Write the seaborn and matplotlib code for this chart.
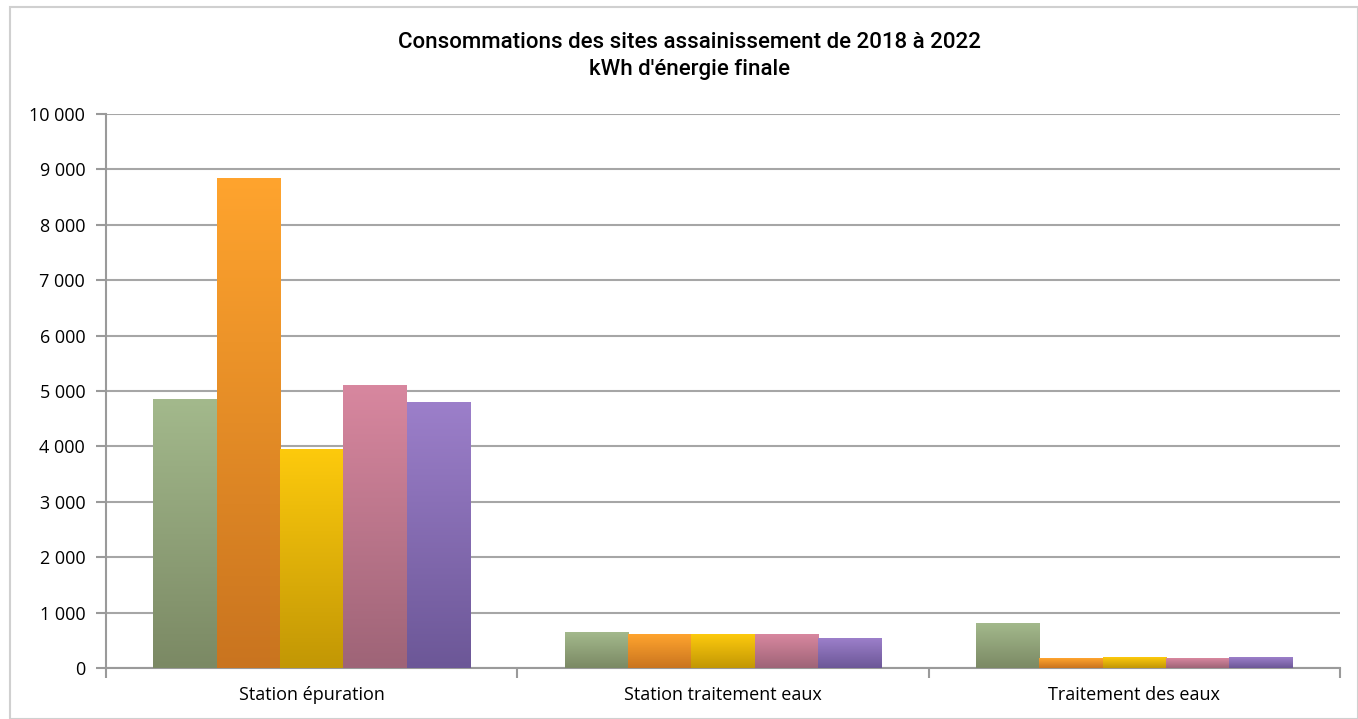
import numpy as np
import pandas as pd
import matplotlib
matplotlib.use("Agg")
import matplotlib.pyplot as plt
import matplotlib.ticker as mticker
from matplotlib.colors import LinearSegmentedColormap
from matplotlib.patches import Rectangle
import seaborn as sns

categories = ["Station épuration", "Station traitement eaux", "Traitement des eaux"]
years = ["2018", "2019", "2020", "2021", "2022"]
v2018 = [4850, 640, 800]
v2019 = [8830, 605, 168]
v2020 = [3950, 605, 186]
v2021 = [5100, 605, 168]
v2022 = [4800, 530, 186]
top_colors = ["#a3b98c", "#ffa42e", "#fdca0d", "#d8879f", "#9c7fca"]
bottom_colors = ["#7b8964", "#c9741f", "#c29705", "#9e6477", "#6c5797"]

rows = []
for yr, vals in zip(years, [v2018, v2019, v2020, v2021, v2022]):
    for c, v in zip(categories, vals):
        rows.append({"site": c, "annee": yr, "kwh": v})
df = pd.DataFrame(rows)

sns.set_theme(style="white")
plt.rcParams["font.family"] = ["Open Sans", "DejaVu Sans"]

fig = plt.figure(figsize=(13.58, 7.19), dpi=100)
ax = fig.add_axes([106/1358, 51/719, (1340-106)/1358, (668-114)/719])

sns.barplot(data=df, x="site", y="kwh", hue="annee", order=categories,
            hue_order=years, palette=top_colors, width=0.77, gap=0,
            legend=False, ax=ax, saturation=1, errorbar=None)

ax.set_ylim(0, 10000)
ax.set_xlim(-0.5, 2.5)

# gradient fill for each bar
bars = [p for p in ax.patches if isinstance(p, Rectangle)]
n_cat = len(categories)
for i, p in enumerate(bars):
    hue_idx = i // n_cat
    x, w, h = p.get_x(), p.get_width(), p.get_height()
    cmap = LinearSegmentedColormap.from_list("g", [bottom_colors[hue_idx], top_colors[hue_idx]])
    grad = np.linspace(0, 1, 256).reshape(-1, 1)
    ax.imshow(grad, cmap=cmap, origin="lower", aspect="auto",
              extent=[x, x + w, 0, h], zorder=3)
    p.set_visible(False)

ax.set_ylim(0, 10000)
ax.set_xlim(-0.5, 2.5)

ax.yaxis.set_major_locator(mticker.MultipleLocator(1000))
ax.yaxis.set_major_formatter(mticker.FuncFormatter(lambda v, _: f"{int(v):,}".replace(",", " ")))
ax.grid(axis="y", color="#a6a6a6", linewidth=1.5, zorder=0)
ax.set_axisbelow(True)

for s in ["top", "right"]:
    ax.spines[s].set_visible(False)
for s in ["left", "bottom"]:
    ax.spines[s].set_color("#9a9a9a")
    ax.spines[s].set_linewidth(1.5)

ax.tick_params(axis="y", which="major", left=True, length=7, width=1.5, color="#9a9a9a",
               labelsize=13, pad=8, labelcolor="black")
ax.set_xticks(range(len(categories)))
ax.set_xticklabels(categories)
ax.tick_params(axis="x", which="major", length=0, labelsize=13, pad=13, labelcolor="black")
ax.set_xticks([-0.5, 0.5, 1.5, 2.5], minor=True)
ax.tick_params(axis="x", which="minor", bottom=True, length=7, width=1.5, color="#9a9a9a")
ax.set_xlabel("")
ax.set_ylabel("")

fig.text(0.508, 1 - 43/719, "Consommations des sites assainissement de 2018 à 2022",
         ha="center", va="center", fontsize=16, color="black", fontweight="medium",
         family=["Roboto", "DejaVu Sans"])
fig.text(0.508, 1 - 70/719, "kWh d'énergie finale",
         ha="center", va="center", fontsize=16, color="black", fontweight="medium",
         family=["Roboto", "DejaVu Sans"])

fig.patches.append(Rectangle((10/1358, 0), 1 - 10/1358, 1 - 7/719, transform=fig.transFigure,
                             fill=False, edgecolor="#d0d0d0", linewidth=1.5))

fig.savefig("out.png", dpi=100)
